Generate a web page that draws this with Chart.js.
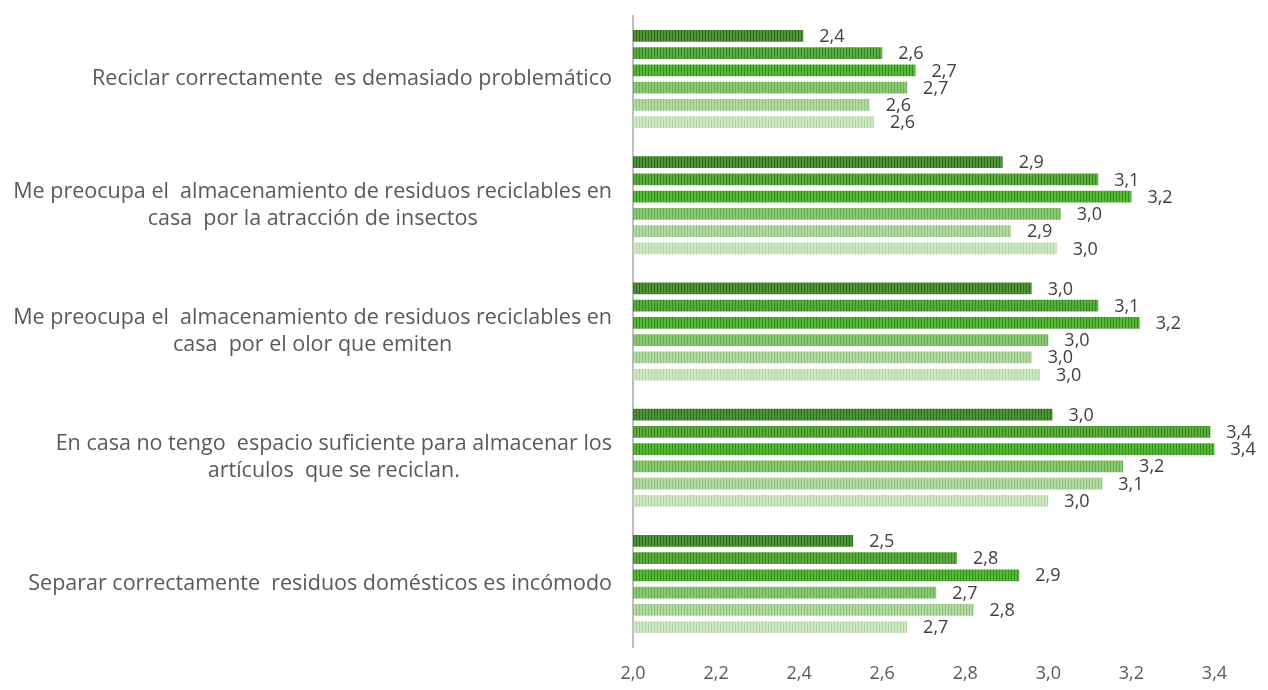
<!DOCTYPE html>
<html lang="es">
<head>
    <meta charset="UTF-8">
    <title>Barreras al reciclaje</title>
    <script src="https://cdn.jsdelivr.net/npm/chart.js"></script>
    <style>
        body {
            margin: 0;
            background: white;
        }
        .chart-container {
            width: 1268px;
            height: 690px;
        }
    </style>
</head>
<body>
    <div class="chart-container">
        <canvas id="barrerasChart"></canvas>
    </div>

    <script>
        // categorias (cada una en sus lineas, como en el original)
        const categorias = [
            ['Reciclar correctamente  es demasiado problemático'],
            ['Me preocupa el  almacenamiento de residuos reciclables en', 'casa  por la atracción de insectos'],
            ['Me preocupa el  almacenamiento de residuos reciclables en', 'casa  por el olor que emiten'],
            ['En casa no tengo  espacio suficiente para almacenar los', 'artículos  que se reciclan.'],
            ['Separar correctamente  residuos domésticos es incómodo']
        ];

        // seis series, de la mas oscura a la mas clara
        const serie1 = [2.41, 2.89, 2.96, 3.01, 2.53];
        const serie2 = [2.60, 3.12, 3.12, 3.39, 2.78];
        const serie3 = [2.68, 3.20, 3.22, 3.40, 2.93];
        const serie4 = [2.66, 3.03, 3.00, 3.18, 2.73];
        const serie5 = [2.57, 2.91, 2.96, 3.13, 2.82];
        const serie6 = [2.58, 3.02, 2.98, 3.00, 2.66];

        // eje de valores
        const ticksX = [2.0, 2.2, 2.4, 2.6, 2.8, 3.0, 3.2, 3.4];
        const ejeMin = 2.0;
        const ejeMax = 3.5;

        const FONT = "'Open Sans', 'Noto Sans', sans-serif";

        // relleno de rayas verticales
        function rayas(base, linea) {
            const c = document.createElement('canvas');
            c.width = 3;
            c.height = 1;
            const g = c.getContext('2d');
            g.fillStyle = base;
            g.fillRect(0, 0, 3, 1);
            g.fillStyle = linea;
            g.fillRect(0, 0, 1, 1);
            return g.createPattern(c, 'repeat');
        }

        const coma = v => v.toFixed(1).replace('.', ',');

        // etiquetas de categoria: bloque alineado a la derecha, lineas centradas
        const etiquetasY = {
            id: 'etiquetasY',
            afterDraw(chart) {
                const ctx = chart.ctx;
                const y = chart.scales.y;
                const right = chart.chartArea.left - 21;
                const lh = 27;
                ctx.save();
                ctx.font = '21.5px ' + FONT;
                ctx.fillStyle = '#595959';
                ctx.textAlign = 'center';
                ctx.textBaseline = 'middle';
                categorias.forEach((lineas, i) => {
                    const w = Math.max(...lineas.map(l => ctx.measureText(l).width));
                    const cx = right - w / 2;
                    const cy = y.getPixelForValue(i);
                    lineas.forEach((l, k) => {
                        ctx.fillText(l, cx, cy + (k - (lineas.length - 1) / 2) * lh);
                    });
                });
                ctx.restore();
            }
        };

        // valores al final de cada barra
        const valores = {
            id: 'valores',
            afterDatasetsDraw(chart) {
                const ctx = chart.ctx;
                ctx.save();
                ctx.font = '18px ' + FONT;
                ctx.fillStyle = '#404040';
                ctx.textAlign = 'left';
                ctx.textBaseline = 'middle';
                chart.data.datasets.forEach((ds, di) => {
                    chart.getDatasetMeta(di).data.forEach((bar, i) => {
                        ctx.fillText(coma(ds.data[i]), bar.x + 16, bar.y + 1);
                    });
                });
                ctx.restore();
            }
        };

        const ctx = document.getElementById('barrerasChart').getContext('2d');
        new Chart(ctx, {
            type: 'bar',
            data: {
                labels: categorias,
                datasets: [
                    { label: 'Serie 1', data: serie1, backgroundColor: rayas('#4f9538', '#306a20') },
                    { label: 'Serie 2', data: serie2, backgroundColor: rayas('#5cad40', '#3a8326') },
                    { label: 'Serie 3', data: serie3, backgroundColor: rayas('#58b83a', '#358d22') },
                    { label: 'Serie 4', data: serie4, backgroundColor: rayas('#8cc875', '#68ad50') },
                    { label: 'Serie 5', data: serie5, backgroundColor: rayas('#b4d9a5', '#92c280') },
                    { label: 'Serie 6', data: serie6, backgroundColor: rayas('#cfe7c6', '#b1d6a4') }
                ]
            },
            options: {
                indexAxis: 'y',
                responsive: true,
                maintainAspectRatio: false,
                animation: false,
                layout: {
                    padding: { top: 16, bottom: 0, left: 0, right: 12 }
                },
                datasets: {
                    bar: {
                        categoryPercentage: 0.82,
                        barPercentage: 0.68
                    }
                },
                plugins: {
                    legend: { display: false },
                    tooltip: { enabled: false }
                },
                scales: {
                    x: {
                        min: ejeMin,
                        max: ejeMax,
                        grid: { display: false },
                        border: { display: false },
                        afterBuildTicks(scale) {
                            scale.ticks = ticksX.map(v => ({ value: v }));
                        },
                        afterFit(scale) {
                            scale.height = 43;
                        },
                        ticks: {
                            padding: 8,
                            color: '#595959',
                            font: { family: FONT, size: 18 },
                            callback: v => coma(v)
                        }
                    },
                    y: {
                        grid: { display: false },
                        border: { display: true, color: '#bfbfbf', width: 2 },
                        ticks: { display: false },
                        afterFit(scale) {
                            scale.width = 633;
                        }
                    }
                }
            },
            plugins: [etiquetasY, valores]
        });
    </script>
</body>
</html>
